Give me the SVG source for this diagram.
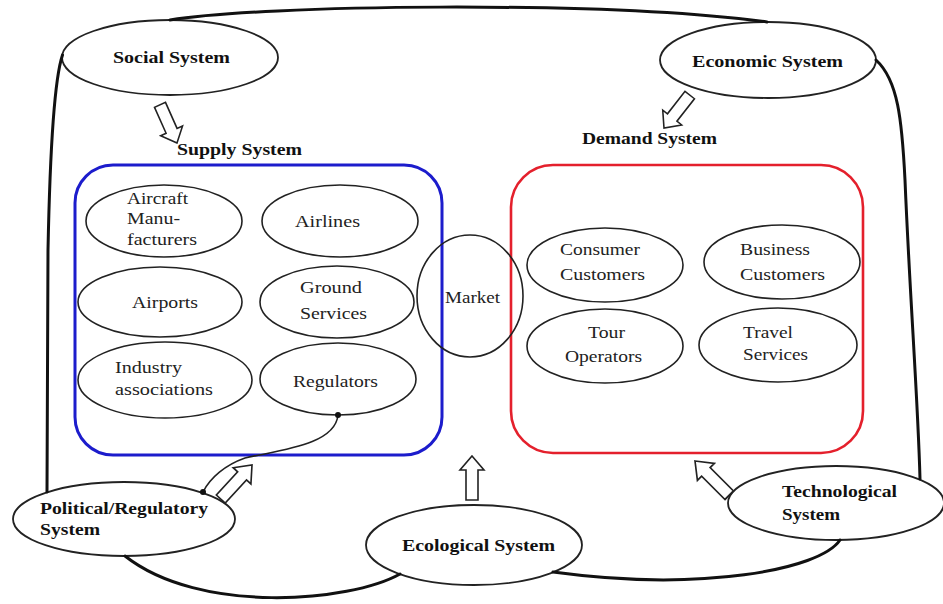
<svg xmlns="http://www.w3.org/2000/svg" width="943" height="604" viewBox="0 0 943 604">
  <defs>
    <style>
      .bg { fill: #ffffff; }
      .env { fill: none; stroke: #111; stroke-width: 3; stroke-linecap: round; }
      .sys { fill: #ffffff; stroke: #222; stroke-width: 1.8; }
      .item { fill: #ffffff; stroke: #222; stroke-width: 1.6; }
      .market { fill: none; stroke: #222; stroke-width: 1.6; }
      .supply { fill: none; stroke: #1c1ccc; stroke-width: 3; }
      .demand { fill: none; stroke: #e4202c; stroke-width: 2.6; }
      .blk { fill: #ffffff; stroke: #222; stroke-width: 1.6; stroke-linejoin: miter; }
      .link { fill: none; stroke: #222; stroke-width: 1.6; }
      .dot { fill: #111; }
      .lb { font-family: "Liberation Serif", "Times New Roman", serif; font-weight: bold; font-size: 16px; fill: #111; }
      .lt { font-family: "Liberation Serif", "Times New Roman", serif; font-size: 16px; fill: #222; }
    </style>
    <!-- hollow block arrow, tip at origin, pointing up -->
    <path id="blockArrow" d="M0,0 L12,14 L6,14 L6,44 L-6,44 L-6,14 L-12,14 Z"/>
  </defs>

  <rect class="bg" x="0" y="0" width="943" height="604"/>

  <!-- supply system -->
  <g id="supply-system">
    <rect class="supply" x="75" y="165" width="367" height="290" rx="38"/>
    <text class="lb" x="177" y="155" textLength="125" lengthAdjust="spacingAndGlyphs">Supply System</text>
  </g>
  <g id="aircraft-manufacturers">
    <ellipse class="item" cx="164" cy="221" rx="78" ry="36"/>
    <text class="lt" x="127" y="204" textLength="61" lengthAdjust="spacingAndGlyphs">Aircraft</text>
    <text class="lt" x="127" y="224" textLength="53" lengthAdjust="spacingAndGlyphs">Manu-</text>
    <text class="lt" x="127" y="245" textLength="70" lengthAdjust="spacingAndGlyphs">facturers</text>
  </g>
  <g id="airlines">
    <ellipse class="item" cx="340" cy="221" rx="78" ry="36"/>
    <text class="lt" x="295" y="227" textLength="65" lengthAdjust="spacingAndGlyphs">Airlines</text>
  </g>
  <g id="airports">
    <ellipse class="item" cx="160" cy="302" rx="82" ry="35"/>
    <text class="lt" x="132" y="308" textLength="66" lengthAdjust="spacingAndGlyphs">Airports</text>
  </g>
  <g id="ground-services">
    <ellipse class="item" cx="337" cy="302" rx="77" ry="36"/>
    <text class="lt" x="300" y="293" textLength="62" lengthAdjust="spacingAndGlyphs">Ground</text>
    <text class="lt" x="300" y="319" textLength="67" lengthAdjust="spacingAndGlyphs">Services</text>
  </g>
  <g id="industry-associations">
    <ellipse class="item" cx="165" cy="380" rx="87" ry="38"/>
    <text class="lt" x="115" y="373" textLength="67" lengthAdjust="spacingAndGlyphs">Industry</text>
    <text class="lt" x="115" y="395" textLength="98" lengthAdjust="spacingAndGlyphs">associations</text>
  </g>
  <g id="regulators">
    <ellipse class="item" cx="338" cy="379" rx="78" ry="36"/>
    <text class="lt" x="293" y="387" textLength="85" lengthAdjust="spacingAndGlyphs">Regulators</text>
  </g>

  <!-- demand system -->
  <g id="demand-system">
    <rect class="demand" x="511" y="165" width="352" height="288" rx="42"/>
    <text class="lb" x="582" y="144" textLength="135" lengthAdjust="spacingAndGlyphs">Demand System</text>
  </g>
  <g id="consumer-customers">
    <ellipse class="item" cx="605" cy="265" rx="78" ry="37"/>
    <text class="lt" x="560" y="255" textLength="80" lengthAdjust="spacingAndGlyphs">Consumer</text>
    <text class="lt" x="560" y="280" textLength="85" lengthAdjust="spacingAndGlyphs">Customers</text>
  </g>
  <g id="business-customers">
    <ellipse class="item" cx="782" cy="262" rx="78" ry="37"/>
    <text class="lt" x="740" y="255" textLength="70" lengthAdjust="spacingAndGlyphs">Business</text>
    <text class="lt" x="740" y="280" textLength="85" lengthAdjust="spacingAndGlyphs">Customers</text>
  </g>
  <g id="tour-operators">
    <ellipse class="item" cx="605" cy="346" rx="78" ry="37"/>
    <text class="lt" x="588" y="338" textLength="37" lengthAdjust="spacingAndGlyphs">Tour</text>
    <text class="lt" x="565" y="362" textLength="77" lengthAdjust="spacingAndGlyphs">Operators</text>
  </g>
  <g id="travel-services">
    <ellipse class="item" cx="778" cy="345" rx="79" ry="37"/>
    <text class="lt" x="743" y="338" textLength="50" lengthAdjust="spacingAndGlyphs">Travel</text>
    <text class="lt" x="743" y="360" textLength="65" lengthAdjust="spacingAndGlyphs">Services</text>
  </g>

  <g id="market">
    <ellipse class="market" cx="470" cy="296" rx="53" ry="61"/>
    <text class="lt" x="445" y="303" textLength="55" lengthAdjust="spacingAndGlyphs">Market</text>
  </g>

  <!-- surrounding systems -->
  <g id="social-system">
    <ellipse class="sys" cx="170" cy="57.5" rx="108" ry="37.5"/>
    <text class="lb" x="113" y="63" textLength="117" lengthAdjust="spacingAndGlyphs">Social System</text>
  </g>
  <g id="economic-system">
    <ellipse class="sys" cx="768" cy="60" rx="108" ry="38"/>
    <text class="lb" x="692" y="67" textLength="151" lengthAdjust="spacingAndGlyphs">Economic System</text>
  </g>
  <g id="political-regulatory-system">
    <ellipse class="sys" cx="124" cy="519" rx="111" ry="37"/>
    <text class="lb" x="40" y="514" textLength="168" lengthAdjust="spacingAndGlyphs">Political/Regulatory</text>
    <text class="lb" x="40" y="535" textLength="60" lengthAdjust="spacingAndGlyphs">System</text>
  </g>
  <g id="ecological-system">
    <ellipse class="sys" cx="474" cy="545" rx="108" ry="40"/>
    <text class="lb" x="402" y="551" textLength="153" lengthAdjust="spacingAndGlyphs">Ecological System</text>
  </g>
  <g id="technological-system">
    <ellipse class="sys" cx="836" cy="503" rx="108" ry="37"/>
    <text class="lb" x="782" y="497" textLength="115" lengthAdjust="spacingAndGlyphs">Technological</text>
    <text class="lb" x="782" y="520" textLength="58" lengthAdjust="spacingAndGlyphs">System</text>
  </g>

  <!-- environment boundary, influence arrows and the regulators link -->
  <g id="connectors">
    <path class="env" d="M170,20 C260,5 600,0 767,22"/>
    <path class="env" d="M876,60 C898,80 902,120 905,180 C910,300 918,400 920,479"/>
    <path class="env" d="M840,540 C820,570 700,592 553,572"/>
    <path class="env" d="M400,574 C350,602 200,615 125,556"/>
    <path class="env" d="M47,492 L48,250 C50,150 54,80 62.5,55"/>

    <use href="#blockArrow" class="blk" transform="translate(177,143) rotate(156) scale(1,0.95)"/>
    <use href="#blockArrow" class="blk" transform="translate(664,128) rotate(218) scale(1,0.95)"/>
    <use href="#blockArrow" class="blk" transform="translate(252,465) rotate(42.5) scale(1,1.05)"/>
    <use href="#blockArrow" class="blk" transform="translate(472,456)"/>
    <use href="#blockArrow" class="blk" transform="translate(695,461) rotate(-45) scale(1,1.1)"/>

    <path class="link" d="M338,415 C335,445 280,450 245,458 C225,465 210,478 203,492"/>
    <circle class="dot" cx="338" cy="415" r="3"/>
    <circle class="dot" cx="203" cy="492" r="3"/>
  </g>
</svg>
